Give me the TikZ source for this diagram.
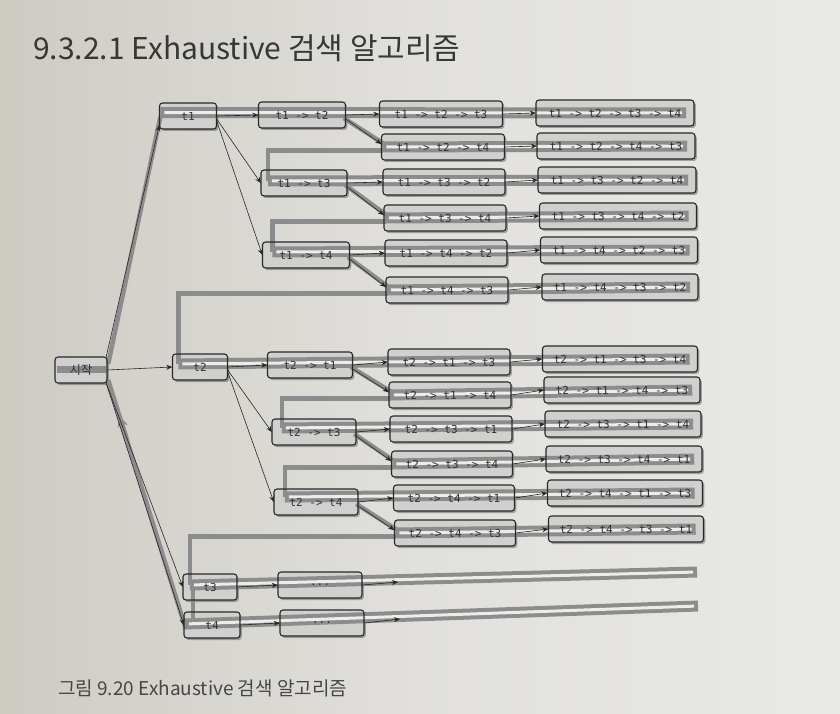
\documentclass[tikz,border=0pt]{standalone}
\usepackage{fontspec}
\newfontfamily\kr{Noto Sans CJK KR}
\setmonofont{DejaVu Sans Mono}
\usetikzlibrary{shadows,calc,arrows.meta}
\definecolor{boxfill}{RGB}{208,208,206}
\definecolor{boxline}{RGB}{40,40,40}
\definecolor{txt}{RGB}{50,50,50}
\definecolor{bandc}{RGB}{140,140,140}
\definecolor{bandw}{RGB}{236,236,234}
\definecolor{bgL}{RGB}{206,203,195}
\definecolor{bgM}{RGB}{225,224,220}
\definecolor{bgR}{RGB}{233,233,231}
\definecolor{titlec}{RGB}{55,55,55}
\definecolor{capc}{RGB}{70,70,70}
\newcommand\rowband[2]{\draw[bandouter] (#1) -- (#2); \draw[bandinner] ($(#1)!4pt!(#2)$) -- ($(#2)!4pt!(#1)$);}
\newcommand\tdots{.{}.{}.}
\def\boxlist{S/81/370/52/{\kr\fontsize{12}{14}\selectfont 시작},
A/188/116/57/t1, B/200/367/55/t2, C/210/587/54/t3, D/212/625/56/t4,
A2/302/115/87/t1 -> t2, A3/304/183/86/t1 -> t3, A4/306/255/87/t1 -> t4,
B1/310/365/85/t2 -> t1, B3/314/432/84/t2 -> t3, B4/316/502/84/t2 -> t4,
C1/320/585/84/\tdots, D1/322/623/84/\tdots,
A23/441/114/123/t1 -> t2 -> t3, A24/443/147/123/t1 -> t2 -> t4,
A32/444/182/122/t1 -> t3 -> t2, A34/445/218/122/t1 -> t3 -> t4,
A42/446/253/122/t1 -> t4 -> t2, A43/447/290/122/t1 -> t4 -> t3,
B13/449/362/122/t2 -> t1 -> t3, B14/450/395/122/t2 -> t1 -> t4,
B31/451/429/122/t2 -> t3 -> t1, B34/452/464/121/t2 -> t3 -> t4,
B41/454/498/121/t2 -> t4 -> t1, B43/455/533/121/t2 -> t4 -> t3,
A234/615/113/158/t1 -> t2 -> t3 -> t4, A243/616/146/158/t1 -> t2 -> t4 -> t3,
A324/617/180/158/t1 -> t3 -> t2 -> t4, A342/618/216/157/t1 -> t3 -> t4 -> t2,
A423/619/250/157/t1 -> t4 -> t2 -> t3, A432/620/287/156/t1 -> t4 -> t3 -> t2,
B134/620/359/155/t2 -> t1 -> t3 -> t4, B143/622/390/156/t2 -> t1 -> t4 -> t3,
B314/623/424/156/t2 -> t3 -> t1 -> t4, B341/624/459/156/t2 -> t3 -> t4 -> t1,
B413/625/493/155/t2 -> t4 -> t1 -> t3, B431/626/529/155/t2 -> t4 -> t3 -> t1}
\begin{document}
\begin{tikzpicture}[x=1pt,y=-1pt,
  fillbox/.style={rounded corners=3pt, fill=boxfill, minimum height=26pt, inner sep=0pt,
    drop shadow={shadow xshift=1.8pt,shadow yshift=-2pt,opacity=0.45,fill=black!70}},
  linebox/.style={rounded corners=3pt, draw=boxline, line width=1.1pt, minimum height=26pt,
    inner sep=0pt, font=\fontsize{11}{13}\selectfont\ttfamily, text=txt},
  bandline/.style={draw=bandc, line width=4.5pt},
  bandouter/.style={draw=bandc, line width=11pt},
  bandinner/.style={draw=bandw, line width=3pt},
  tedge/.style={draw=black!85, line width=0.6pt, -{Stealth[length=6pt,width=5pt,inset=2pt]}},
]
\useasboundingbox (0,0) rectangle (840,714);
\shade[left color=bgL, right color=bgR, middle color=bgM] (0,0) rectangle (840,714);
\node[anchor=west, font=\kr\fontsize{30}{36}\selectfont, text=titlec, inner sep=0pt] (title) at (33,48) {9.3.2.1 Exhaustive 검색 알고리즘};
\node[anchor=west, font=\kr\fontsize{19}{23}\selectfont, text=capc, inner sep=0pt] (cap) at (58,688) {그림 9.20 Exhaustive 검색 알고리즘};
% pass 1: fills
\foreach \n/\x/\y/\w/\t in \boxlist {\node[fillbox, minimum width=\w pt] (\n) at (\x,\y) {};}
% band coordinates
\coordinate (r1s) at ($(A.west)+(1,-3.5)$);   \coordinate (r1e) at ($(A234.east)+(-8,0)$);
\coordinate (r2s) at ($(A24.west)+(1,0)$);    \coordinate (r2e) at ($(A243.east)+(-8,0)$);
\coordinate (r3s) at ($(A3.west)+(7,-2)$);    \coordinate (r3e) at ($(A324.east)+(-8,0)$);
\coordinate (r4s) at ($(A34.west)+(1,0)$);    \coordinate (r4e) at ($(A342.east)+(-8,0)$);
\coordinate (r5s) at ($(A4.west)+(10,-3)$);   \coordinate (r5e) at ($(A423.east)+(-8,0)$);
\coordinate (r6s) at ($(A43.west)+(1,0)$);    \coordinate (r6e) at ($(A432.east)+(-8,0)$);
\coordinate (r7s) at ($(B.west)+(6,-3)$);     \coordinate (r7e) at ($(B134.east)+(-8,0)$);
\coordinate (r8s) at ($(B14.west)+(1,0)$);    \coordinate (r8e) at ($(B143.east)+(-8,0)$);
\coordinate (r9s) at ($(B3.west)+(10,-4)$);   \coordinate (r9e) at ($(B314.east)+(-8,0)$);
\coordinate (r10s) at ($(B34.west)+(1,0)$);   \coordinate (r10e) at ($(B341.east)+(-8,0)$);
\coordinate (r11s) at ($(B4.west)+(11,-5)$);  \coordinate (r11e) at ($(B413.east)+(-8,0)$);
\coordinate (r12s) at ($(B43.west)+(1,0)$);   \coordinate (r12e) at ($(B431.east)+(-8,0)$);
\coordinate (r13s) at ($(C.west)+(7,-2)$);    \coordinate (r13e) at (697,572);
\coordinate (r14s) at ($(D.west)+(1,-1)$);    \coordinate (r14e) at (698,606);
\coordinate (ret1) at ($(D.west)+(2,4)$);     \coordinate (ret2) at ($(S.east)+(1,10)$);
\coordinate (c34) at ($(r13s)+(3,3.5)$);
% band connectors
\draw[draw=bandc, line width=7pt] ($(S.west)+(2,-1)$) -- ($(S.east)+(-1,-1)$);
\draw[bandline] ($(S.east)+(1,-6)$) -- ($(A.west)+(1,1)$);
\draw[bandline] ($(A2.east)+(-2,3)$) -- ($(A24.west)+(2,-3.5)$);
\draw[bandline] ($(A24.west)+(2,3.5)$) -| (r3s);
\draw[bandline] ($(A3.east)+(-2,2)$) -- ($(A34.west)+(2,-3.5)$);
\draw[bandline] ($(A34.west)+(2,3.5)$) -| (r5s);
\draw[bandline] ($(A4.east)+(-2,2)$) -- ($(A43.west)+(2,-3.5)$);
\draw[bandline] ($(A43.west)+(2,3.5)$) -| (r7s);
\draw[bandline] ($(B1.east)+(-2,2)$) -- ($(B14.west)+(2,-3.5)$);
\draw[bandline] ($(B14.west)+(2,3.5)$) -| (r9s);
\draw[bandline] ($(B3.east)+(-2,2)$) -- ($(B34.west)+(2,-3.5)$);
\draw[bandline] ($(B34.west)+(2,3.5)$) -| (r11s);
\draw[bandline] ($(B4.east)+(-2,2)$) -- ($(B43.west)+(2,-3.5)$);
\draw[bandline] ($(B43.west)+(2,3.5)$) -| (r13s);
\draw[bandline] (c34) -- ($(c34 |- r14s)+(0,-3.5)$);
\draw[bandline] (ret1) -- (ret2);
\draw[bandline, -{Stealth[length=12pt,width=10pt,inset=3pt]}] ($(ret1)!0.76!(ret2)$) -- ($(ret1)!0.86!(ret2)$);
% row bands
\rowband{r1s}{r1e}\rowband{r2s}{r2e}\rowband{r3s}{r3e}\rowband{r4s}{r4e}
\rowband{r5s}{r5e}\rowband{r6s}{r6e}\rowband{r7s}{r7e}\rowband{r8s}{r8e}
\rowband{r9s}{r9e}\rowband{r10s}{r10e}\rowband{r11s}{r11e}\rowband{r12s}{r12e}
\rowband{r13s}{r13e}\rowband{r14s}{r14e}
% tree edges
\coordinate (c3a) at (398,582);
\coordinate (d3a) at (400,619);
\draw[tedge] ($(S.north east)+(-1,0)$) -- ($(A.south west)+(0,-4)$);
\draw[tedge] (S.east) -- (B.west);
\draw[tedge] ($(S.south east)+(-1,0)$) -- (C.west);
\draw[tedge] ($(S.south east)+(-1,0)$) -- (D.west);
\draw[tedge] (A.east) -- (A2.west);
\draw[tedge] ($(A.east)+(0,3)$) -- (A3.west);
\draw[tedge] ($(A.east)+(0,5)$) -- (A4.west);
\draw[tedge] (B.east) -- (B1.west);
\draw[tedge] ($(B.east)+(0,3)$) -- (B3.west);
\draw[tedge] ($(B.east)+(0,5)$) -- (B4.west);
\foreach \p/\a/\b in {A2/A23/A24, A3/A32/A34, A4/A42/A43, B1/B13/B14, B3/B31/B34, B4/B41/B43} {
  \draw[tedge] (\p.east) -- (\a.west);
  \draw[tedge] ($(\p.east)+(0,4)$) -- ($(\b.west)+(0,-3)$);
}
\foreach \a/\b in {A23/A234, A24/A243, A32/A324, A34/A342, A42/A423, A43/A432,
                   B13/B134, B14/B143, B31/B314, B34/B341, B41/B413, B43/B431, C/C1, D/D1} {
  \draw[tedge] (\a.east) -- (\b.west);
}
\draw[tedge] (C1.east) -- (c3a);
\draw[tedge] (D1.east) -- (d3a);
% pass 2: borders and texts
\foreach \n/\x/\y/\w/\t in \boxlist {\node[linebox, minimum width=\w pt] (\n-b) at (\x,\y) {\t};}
\end{tikzpicture}
\end{document}
